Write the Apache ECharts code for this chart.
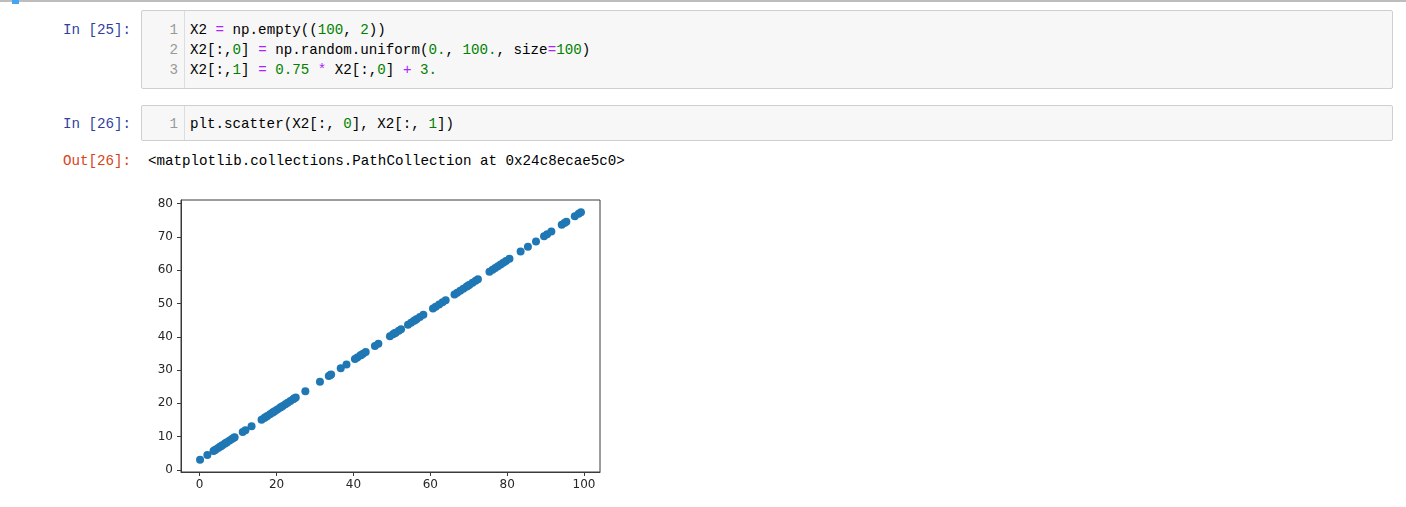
<!DOCTYPE html>
<html>
<head>
<meta charset="utf-8">
<script src="https://cdn.jsdelivr.net/npm/echarts@6/dist/echarts.min.js"></script>
<style>
  html, body { margin:0; padding:0; background:#fff; width:1406px; height:507px; overflow:hidden; }
  .abs { position:absolute; }
  .mono { font-family:"Liberation Mono","DejaVu Sans Mono",monospace; font-size:14.2px; line-height:20px; white-space:pre; }
  .prompt-in { color:#303F9F; }
  .prompt-out { color:#D84315; }
  .box { position:absolute; background:#F7F7F7; border:1px solid #CFCFCF; border-radius:2px; box-sizing:border-box; }
  .gutter { position:absolute; top:0; bottom:0; left:0; width:42px; border-right:1px solid #DDDDDD; }
  .ln { color:#999; text-align:right; width:36px; }
  .op { color:#AA22FF; }
  .num { color:#008000; }
</style>
</head>
<body>
<div class="abs" style="left:0;top:0;width:1406px;height:2px;background:#BDBDBD;"></div>
<div class="abs" style="left:12px;top:0;width:7px;height:4px;background:#42A5F5;"></div>

<div class="abs mono prompt-in" style="left:63px;top:20px;">In [25]:</div>
<div class="box" style="left:141px;top:10px;width:1252px;height:79px;">
  <div class="gutter"></div>
  <div class="abs mono ln" style="left:0;top:9px;">1
2
3</div>
  <div class="abs mono" style="left:48px;top:9px;">X2 <span class="op">=</span> np.empty((<span class="num">100</span>, <span class="num">2</span>))
X2[:,<span class="num">0</span>] <span class="op">=</span> np.random.uniform(<span class="num">0.</span>, <span class="num">100.</span>, size<span class="op">=</span><span class="num">100</span>)
X2[:,<span class="num">1</span>] <span class="op">=</span> <span class="num">0.75</span> <span class="op">*</span> X2[:,<span class="num">0</span>] <span class="op">+</span> <span class="num">3.</span></div>
</div>

<div class="abs mono prompt-in" style="left:63px;top:114px;">In [26]:</div>
<div class="box" style="left:141px;top:105px;width:1252px;height:36px;">
  <div class="gutter"></div>
  <div class="abs mono ln" style="left:0;top:8px;">1</div>
  <div class="abs mono" style="left:48px;top:8px;">plt.scatter(X2[:, <span class="num">0</span>], X2[:, <span class="num">1</span>])</div>
</div>

<div class="abs mono prompt-out" style="left:63px;top:151px;">Out[26]:</div>
<div class="abs mono" style="left:148px;top:151px;">&lt;matplotlib.collections.PathCollection at 0x24c8ecae5c0&gt;</div>

<div id="chart" class="abs" style="left:140px;top:190px;width:470px;height:310px;"></div>

<script>
const xValues = [0.1, 2.0, 3.6, 3.9, 4.2, 4.8, 5.3, 5.6, 5.9, 6.5, 6.9, 7.1, 7.8, 8.4, 8.9, 9.1, 11.2, 11.9, 13.5, 16.1, 16.8, 17.2, 17.6, 18.3, 18.9, 19.2, 19.6, 20.2, 20.9, 21.2, 21.6, 22.3, 22.9, 23.6, 24.3, 24.6, 25.0, 27.5, 31.3, 33.6, 34.0, 34.2, 36.7, 38.2, 40.4, 41.0, 41.8, 42.0, 42.5, 43.2, 45.6, 46.5, 49.5, 50.3, 50.7, 51.0, 51.8, 52.4, 54.2, 55.0, 55.7, 56.1, 56.5, 57.3, 58.2, 60.7, 61.4, 62.3, 63.2, 64.0, 66.3, 67.0, 67.8, 68.6, 69.4, 69.8, 70.2, 71.0, 71.8, 72.4, 75.4, 76.2, 76.9, 77.6, 78.3, 79.0, 79.7, 80.6, 83.5, 85.4, 87.5, 89.6, 90.4, 91.5, 94.2, 94.9, 95.4, 97.6, 98.6, 99.2];
const yValues = [3.08, 4.5, 5.7, 5.93, 6.15, 6.6, 6.98, 7.2, 7.43, 7.88, 8.18, 8.33, 8.85, 9.3, 9.68, 9.83, 11.4, 11.93, 13.13, 15.08, 15.6, 15.9, 16.2, 16.73, 17.18, 17.4, 17.7, 18.15, 18.68, 18.9, 19.2, 19.73, 20.18, 20.7, 21.23, 21.45, 21.75, 23.63, 26.48, 28.2, 28.5, 28.65, 30.53, 31.65, 33.3, 33.75, 34.35, 34.5, 34.88, 35.4, 37.2, 37.88, 40.13, 40.73, 41.03, 41.25, 41.85, 42.3, 43.65, 44.25, 44.78, 45.08, 45.38, 45.98, 46.65, 48.53, 49.05, 49.73, 50.4, 51.0, 52.73, 53.25, 53.85, 54.45, 55.05, 55.35, 55.65, 56.25, 56.85, 57.3, 59.55, 60.15, 60.68, 61.2, 61.73, 62.25, 62.78, 63.45, 65.63, 67.05, 68.63, 70.2, 70.8, 71.63, 73.65, 74.18, 74.55, 76.2, 76.95, 77.4];
const xTicks = [0, 20, 40, 60, 80, 100];
const yTicks = [0, 10, 20, 30, 40, 50, 60, 70, 80];

const points = xValues.map((x, i) => [x, yValues[i]]);
function padded(arr) {
  const lo = Math.min(...arr), hi = Math.max(...arr), m = (hi - lo) * 0.05;
  return [lo - m, hi + m];
}
const [xMin, xMax] = padded(xValues);
const [yMin, yMax] = padded(yValues);

const labelStyle = { color:'#262626', fontFamily:'DejaVu Sans', fontSize:12 };
const lineStyle = { color:'#3a3a3a', width:1 };

const chart = echarts.init(document.getElementById('chart'), null, { renderer:'canvas' });
chart.setOption({
  animation:false,
  grid: { left:41, top:10, width:419, height:272, show:true, borderColor:'#3a3a3a', borderWidth:1, backgroundColor:'#fff' },
  xAxis: {
    type:'value', min:xMin, max:xMax,
    axisLine:{ show:true, onZero:false, lineStyle },
    axisTick:{ show:true, inside:false, length:4, lineStyle, customValues:xTicks },
    axisLabel:{ ...labelStyle, margin:7, customValues:xTicks, showMinLabel:true, showMaxLabel:true },
    splitLine:{ show:false }
  },
  yAxis: {
    type:'value', min:yMin, max:yMax,
    axisLine:{ show:true, onZero:false, lineStyle },
    axisTick:{ show:true, inside:false, length:4, lineStyle, customValues:yTicks },
    axisLabel:{ ...labelStyle, margin:8, customValues:yTicks },
    splitLine:{ show:false }
  },
  series: [{
    type:'scatter',
    data:points,
    symbol:'circle',
    symbolSize:8,
    itemStyle:{ color:'#1f77b4', opacity:1 }
  }]
});
</script>
</body>
</html>
